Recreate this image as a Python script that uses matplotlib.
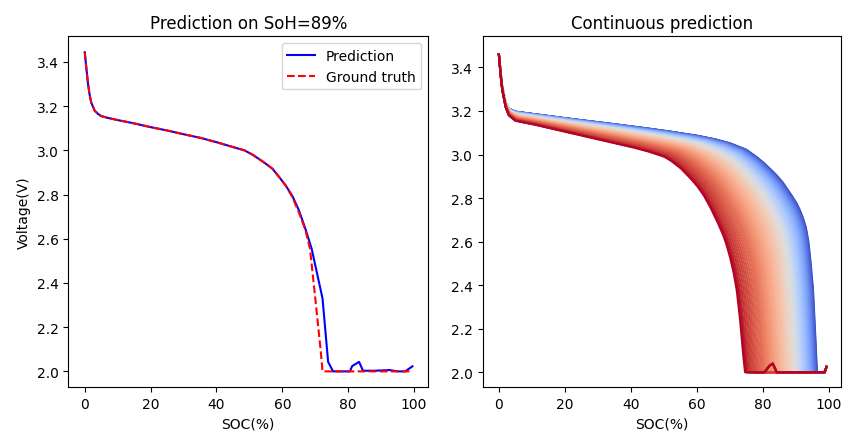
import numpy as np
import matplotlib
matplotlib.use("Agg")
import matplotlib.pyplot as plt

# ---------------- Left panel data (SoH = 89%) ----------------
gt_soc = [0, 0.5, 1, 1.5, 2, 3, 4, 5, 7, 10, 15, 20, 25, 30, 35, 40, 45, 48.5,
          51, 54, 57, 59, 61, 63, 65, 67, 68.4, 70.0, 71.6, 72.2, 80, 90, 99.3]
gt_v = [3.444, 3.37, 3.30, 3.25, 3.215, 3.18, 3.165, 3.155, 3.147, 3.137, 3.122,
        3.105, 3.09, 3.073, 3.057, 3.037, 3.015, 3.0, 2.98, 2.95, 2.917, 2.88,
        2.841, 2.79, 2.72, 2.64, 2.555, 2.33, 2.10, 2.0, 2.0, 2.0, 2.0]

pred_soc = [0, 0.5, 1, 1.5, 2, 3, 4, 5, 7, 10, 15, 20, 25, 30, 35, 40, 45, 48.5,
            51, 54, 57, 59, 61, 63, 65, 67, 68.9, 72.2, 73.9, 75.4, 80.5,
            81.2, 83.3, 84.5, 88, 92.6, 95, 97.3, 99.5]
pred_v = [3.444, 3.37, 3.30, 3.25, 3.215, 3.18, 3.165, 3.155, 3.147, 3.137, 3.122,
          3.105, 3.09, 3.073, 3.057, 3.037, 3.015, 3.0, 2.98, 2.95, 2.917, 2.88,
          2.841, 2.795, 2.73, 2.645, 2.555, 2.33, 2.043, 2.0, 2.0,
          2.024, 2.043, 2.003, 2.003, 2.006, 2.0, 2.0, 2.023]

# ---------------- Right panel data (continuous prediction) ----------------
# first-cycle (blue) curve
blue_soc = [0, 0.5, 1, 2, 3, 5, 10, 20, 30, 40, 50, 60, 65, 70, 72, 75, 78, 80,
            82, 84, 86, 88, 90, 91, 92, 93, 93.8, 94.5, 95.2, 95.8, 96.4]
blue_v = [3.46, 3.38, 3.31, 3.24, 3.21, 3.197, 3.187, 3.167, 3.149, 3.13, 3.11,
          3.087, 3.072, 3.052, 3.04, 3.022, 2.99, 2.965, 2.937, 2.907, 2.872,
          2.828, 2.782, 2.752, 2.715, 2.668, 2.6, 2.5, 2.38, 2.2, 2.0]
# last-cycle (dark red) curve
red_soc = [0, 0.5, 1, 2, 3, 5, 10, 20, 30, 40, 45, 50, 52, 55, 58, 60, 62, 64,
           66, 68, 69, 70, 71, 72, 73, 73.8, 74.5]
red_v = [3.46, 3.37, 3.30, 3.22, 3.18, 3.155, 3.14, 3.105, 3.07, 3.035, 3.015,
         2.99, 2.972, 2.937, 2.89, 2.855, 2.812, 2.757, 2.695, 2.625, 2.58,
         2.525, 2.46, 2.375, 2.24, 2.1, 2.0]

# end-of-discharge SOC of each predicted cycle (first -> last)
cycle_end_soc = [96.4, 96.3, 96.2, 96.1, 96.0, 95.9, 95.8, 95.6, 95.5, 95.4,
                 95.2, 95.1, 95.0, 94.8, 94.7, 94.5, 94.4, 94.2, 94.0, 93.9,
                 93.7, 93.5, 93.3, 93.1, 92.9, 92.7, 92.5, 92.3, 92.1, 91.9,
                 91.7, 91.5, 91.3, 91.1, 90.9, 90.7, 90.5, 90.3, 90.1, 89.9,
                 89.6, 89.3, 89.0, 88.7, 88.4, 88.1, 87.8, 87.5, 87.2, 86.9,
                 86.6, 86.2, 85.8, 85.5, 85.1, 84.8, 84.4, 84.0, 83.6, 83.2,
                 82.8, 82.4, 82.0, 81.6, 81.2, 80.8, 80.4, 80.0, 79.5, 79.0,
                 78.5, 78.0, 77.5, 77.0, 76.5, 76.0, 75.5, 75.2, 74.9, 74.6]
tail_soc = [98.7, 99.3]
tail_v = [2.0, 2.025]
bump_soc = [80.5, 82.0, 83.0, 84.2]
bump_v = [2.0, 2.03, 2.04, 2.0]

# ---------------- Figure ----------------
fig = plt.figure(figsize=(8.43, 4.39), dpi=100)
ax1 = fig.add_axes([0.081, 0.1155, 0.427, 0.7995])
ax2 = fig.add_axes([0.5726, 0.1155, 0.4247, 0.7995])

ax1.plot(pred_soc, pred_v, color="blue", lw=1.5, label="Prediction")
ax1.plot(gt_soc, gt_v, color="red", ls="--", lw=1.5, label="Ground truth")
ax1.set_title("Prediction on SoH=89%", fontsize=12)
ax1.set_xlabel("SOC(%)")
ax1.set_ylabel("Voltage(V)")
ax1.legend(loc="upper right")
ax1.set_xlim(-5.0, 104.3)
ax1.set_ylim(1.928, 3.516)

# build each cycle's curve from the two read curves, scaled to its end SOC
u = np.linspace(0, 1, 400)
b_cap, r_cap = blue_soc[-1], red_soc[-1]
vb = np.interp(u, np.array(blue_soc) / b_cap, blue_v)
vr = np.interp(u, np.array(red_soc) / r_cap, red_v)
cmap = plt.get_cmap("coolwarm")
n = len(cycle_end_soc)
for i, cap in enumerate(cycle_end_soc):
    w = (b_cap - cap) / (b_cap - r_cap)
    v = (1 - w) * vb + w * vr
    x = list(u * cap)
    y = list(v)
    if cap < 80 and i >= n - 6:
        x += bump_soc
        y += bump_v
    x += tail_soc
    y += tail_v
    ax2.plot(x, y, color=cmap(i / (n - 1)), lw=1.5)

ax2.set_title("Continuous prediction", fontsize=12)
ax2.set_xlabel("SOC(%)")
ax2.set_xlim(-4.9, 103.6)
ax2.set_ylim(1.931, 3.543)

for ax in (ax1, ax2):
    ax.set_xticks([0, 20, 40, 60, 80, 100])
    ax.set_yticks([2.0, 2.2, 2.4, 2.6, 2.8, 3.0, 3.2, 3.4])

fig.savefig("out.png", dpi=100)
